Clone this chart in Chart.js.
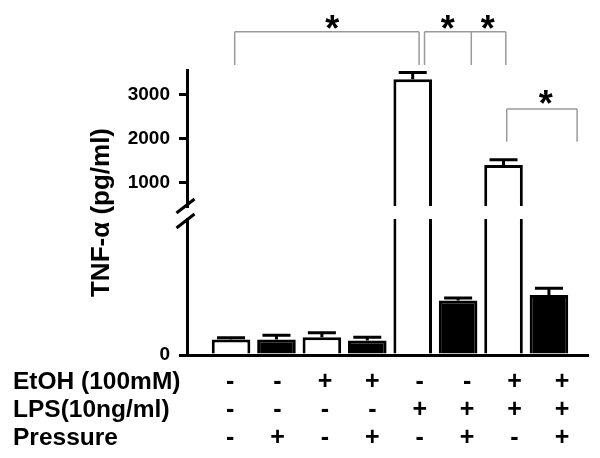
<!DOCTYPE html>
<html>
<head>
<meta charset="UTF-8">
<title>TNF-alpha bar chart</title>
<style>
	body { margin: 0; background: #fff; }
	.container { width: 600px; height: 458px; }
</style>
<script src="https://cdn.jsdelivr.net/npm/chart.js@4.4.1/dist/chart.umd.min.js"></script>
</head>
<body>
<div class="container"><canvas id="myChart" width="600" height="458"></canvas></div>
<script>
// TNF-alpha (pg/ml), mean and upward SEM, one per group
var means  = [57, 57, 65, 53, 3345, 200, 1398, 221];
var errors = [6, 16, 17, 12, 155, 10, 120, 24];

// treatment table under the bars
var rowNames = ['EtOH (100mM)', 'LPS(10ng/ml)', 'Pressure'];
var etoh     = ['-', '-', '+', '+', '-', '-', '+', '+'];
var lps      = ['-', '-', '-', '-', '+', '+', '+', '+'];
var pressure = ['-', '+', '-', '+', '-', '+', '-', '+'];

// y ticks for the two parts of the broken axis
var highTicks = [1000, 2000, 3000];
var lowTicks  = [0];

// significance brackets (x in group units, y in pg/ml of the upper part)
var brackets = [
	{ xs: [1.08, 5.14], top: 4427, bottom: 3670 },
	{ xs: [5.26, 6.29, 7.05], top: 4427, bottom: 3670 },
	{ xs: [7.07, 8.62], top: 2670, bottom: 1927 }
];
var stars = [
	{ x: 3.23, y: 4655 }, { x: 5.77, y: 4655 }, { x: 6.65, y: 4655 }, { x: 7.93, y: 2950 }
];

var FONT = 'Arial, "Liberation Sans", sans-serif';
Chart.defaults.font.family = FONT;
Chart.defaults.color = '#000';

// one tick per group, so the bar width is worked out from the group spacing
function groupTicks(s) {
	s.ticks = means.map(function(_, i) { return { value: i + 1 }; });
}

// clip each dataset to its own part of the broken axis, then draw the extras
var extras = {
	id: 'extras',
	beforeDatasetDraw: function(chart, args) {
		var ys = chart.scales[args.meta.yAxisID];
		var a = chart.chartArea, ctx = chart.ctx;
		ctx.save();
		ctx.beginPath();
		ctx.rect(a.left, ys.top, a.right - a.left, ys.bottom - ys.top);
		ctx.clip();
	},
	afterDatasetDraw: function(chart) {
		chart.ctx.restore();
	},
	afterDraw: function(chart) {
		var ctx = chart.ctx;
		var x = chart.scales.x, hi = chart.scales.yHigh, lo = chart.scales.yLow;

		// error bars
		ctx.save();
		ctx.strokeStyle = '#000';
		ctx.lineWidth = 3;
		for (var i = 0; i < means.length; i++) {
			var s = means[i] > lo.max ? hi : lo;
			var px = x.getPixelForValue(i + 1);
			var y0 = s.getPixelForValue(means[i]);
			var y1 = s.getPixelForValue(means[i] + errors[i]);
			ctx.beginPath();
			ctx.moveTo(px, y0); ctx.lineTo(px, y1);
			ctx.moveTo(px - 14, y1); ctx.lineTo(px + 14, y1);
			ctx.stroke();
		}

		// axis break marks
		var ax = hi.right - 1.5;
		[hi.bottom, lo.top + 2].forEach(function(yy) {
			ctx.beginPath();
			ctx.moveTo(ax - 9, yy + 7);
			ctx.lineTo(ax + 9, yy - 7);
			ctx.stroke();
		});

		// brackets
		ctx.strokeStyle = '#9a9a9a';
		ctx.lineWidth = 1.5;
		brackets.forEach(function(b) {
			var yt = hi.getPixelForValue(b.top), yb = hi.getPixelForValue(b.bottom);
			ctx.beginPath();
			ctx.moveTo(x.getPixelForValue(b.xs[0]), yt);
			ctx.lineTo(x.getPixelForValue(b.xs[b.xs.length - 1]), yt);
			b.xs.forEach(function(v) {
				ctx.moveTo(x.getPixelForValue(v), yt);
				ctx.lineTo(x.getPixelForValue(v), yb);
			});
			ctx.stroke();
		});

		// asterisks, centred on their ink
		ctx.fillStyle = '#000';
		ctx.font = 'bold 36px ' + FONT;
		ctx.textAlign = 'center';
		ctx.textBaseline = 'alphabetic';
		var m = ctx.measureText('*');
		var mid = (m.actualBoundingBoxAscent - m.actualBoundingBoxDescent) / 2;
		stars.forEach(function(st) {
			ctx.fillText('*', x.getPixelForValue(st.x), hi.getPixelForValue(st.y) + mid);
		});

		// row names of the treatment table
		var xl = chart.scales.xl;
		ctx.font = 'bold 24.5px ' + FONT;
		ctx.textAlign = 'left';
		ctx.textBaseline = 'middle';
		rowNames.forEach(function(name, r) {
			ctx.fillText(name, 13, xl.top + 14 + 28 * r);
		});
		ctx.restore();
	}
};

function barSet(axis) {
	return {
		data: means.map(function(v, i) { return { x: i + 1, y: v }; }),
		xAxisID: 'x',
		yAxisID: axis,
		grouped: false,
		backgroundColor: means.map(function(v, i) { return i % 2 ? '#000' : '#fff'; }),
		borderColor: '#000',
		borderWidth: 3,
		barPercentage: 0.85,
		categoryPercentage: 1
	};
}

var yTickFont = { size: 19, weight: 'bold' };
var yGrid = { display: true, drawOnChartArea: false, drawTicks: true, tickLength: 8, tickWidth: 3, lineWidth: 3, color: '#000', tickColor: '#000' };

var ctx = document.getElementById('myChart').getContext('2d');
var myChart = new Chart(ctx, {
	type: 'bar',
	data: { datasets: [barSet('yHigh'), barSet('yLow')] },
	options: {
		responsive: false,
		animation: false,
		layout: { padding: { top: 70, right: 12, bottom: 6, left: 0 } },
		plugins: { legend: { display: false }, tooltip: { enabled: false } },
		scales: {
			x: {
				type: 'linear', position: 'bottom', min: 0.03, max: 8.86, offset: false,
				afterBuildTicks: groupTicks,
				grid: { display: false, drawTicks: true, tickLength: 13, offset: false },
				ticks: { display: false },
				border: { display: true, width: 3, color: '#000' }
			},
			xl: {
				type: 'linear', position: 'bottom', min: 0.09, max: 8.55, offset: false,
				afterBuildTicks: groupTicks,
				grid: { display: false, drawTicks: false, offset: false },
				border: { display: false },
				ticks: {
					autoSkip: false, maxRotation: 0, minRotation: 0, padding: 0,
					font: { size: 25, weight: 'bold', lineHeight: '28px' },
					callback: function(v, i) { return [etoh[i], lps[i], pressure[i]]; }
				}
			},
			yLow: {
				type: 'linear', position: 'left', stack: 'y', stackWeight: 136,
				min: 0, max: 500,
				afterBuildTicks: function(s) { s.ticks = lowTicks.map(function(v) { return { value: v }; }); },
				ticks: { font: yTickFont, padding: 9, callback: function(v) { return String(v); } },
				grid: yGrid,
				border: { display: true, width: 3, color: '#000' }
			},
			yGap: {
				type: 'linear', position: 'left', stack: 'y', stackWeight: 13,
				min: 0, max: 1,
				ticks: { display: false },
				grid: { display: false, drawTicks: false },
				border: { display: false },
				title: {
					display: true, text: 'TNF-α (pg/ml)',
					font: { size: 26, weight: 'bold', lineHeight: 1.2 },
					padding: { top: 86.4, bottom: 69.4 }
				}
			},
			yHigh: {
				type: 'linear', position: 'left', stack: 'y', stackWeight: 136,
				min: 466, max: 3557,
				afterBuildTicks: function(s) { s.ticks = highTicks.map(function(v) { return { value: v }; }); },
				ticks: { font: yTickFont, padding: 9, callback: function(v) { return String(v); } },
				grid: yGrid,
				border: { display: true, width: 3, color: '#000' }
			}
		}
	},
	plugins: [extras]
});
</script>
</body>
</html>
